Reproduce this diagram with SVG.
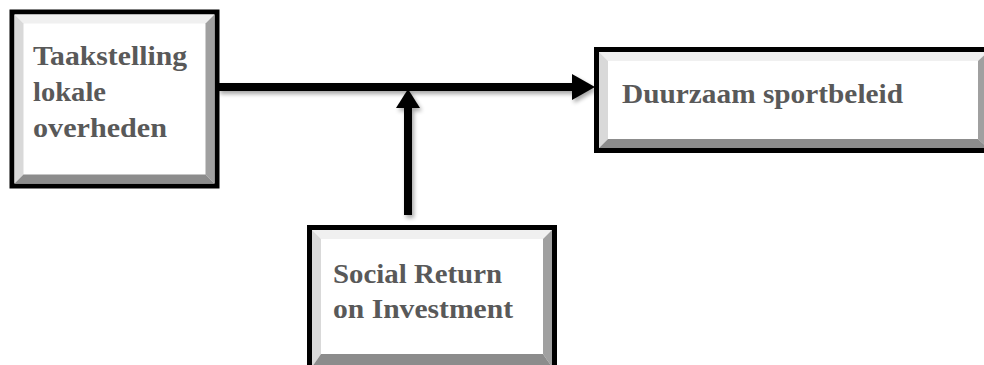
<svg xmlns="http://www.w3.org/2000/svg" width="984" height="365" viewBox="0 0 984 365">
<style>
.frame{fill:#fff;stroke:#000;stroke-width:5}
.bt{fill:#f0f0f0}.bl{fill:#d9d9d9}.br{fill:#a0a0a0}.bb{fill:#8c8c8c}
.lbl{font-family:"Liberation Serif","Times New Roman",serif;font-weight:bold;font-size:27px;fill:#595959}
.conn{stroke:#000;stroke-width:8;fill:none}
</style>
<defs>
<filter id="sh" x="-10%" y="-10%" width="130%" height="130%">
<feGaussianBlur in="SourceAlpha" stdDeviation="2"/>
<feOffset dx="2" dy="3" result="b"/>
<feComponentTransfer><feFuncA type="linear" slope="0.35"/></feComponentTransfer>
<feMerge><feMergeNode/><feMergeNode in="SourceGraphic"/></feMerge>
</filter>
</defs>
<g id="connectors" filter="url(#sh)">
<line class="conn" x1="218" y1="87" x2="576" y2="87"/>
<polygon points="572,74 595,87 572,100" fill="#000"/>
<line class="conn" x1="408" y1="215" x2="408" y2="104"/>
<polygon points="396,108 408,89 420,108" fill="#000"/>
</g>
<g id="node-taakstelling">
<rect class="frame" x="12" y="12" width="205" height="174"/>
<polygon class="bt" points="14.5,14.5 214.5,14.5 205.5,23.5 23.5,23.5"/>
<polygon class="bl" points="14.5,14.5 23.5,23.5 23.5,174.5 14.5,183.5"/>
<polygon class="br" points="214.5,14.5 214.5,183.5 205.5,174.5 205.5,23.5"/>
<polygon class="bb" points="14.5,183.5 214.5,183.5 205.5,174.5 23.5,174.5"/>
<text class="lbl" x="33" y="65" textLength="154" lengthAdjust="spacingAndGlyphs">Taakstelling</text>
<text class="lbl" x="33" y="101" textLength="73" lengthAdjust="spacingAndGlyphs">lokale</text>
<text class="lbl" x="33" y="137" textLength="134" lengthAdjust="spacingAndGlyphs">overheden</text>
</g>
<g id="node-duurzaam">
<rect class="frame" x="596.5" y="49.5" width="394" height="101"/>
<polygon class="bt" points="599,52 988,52 979,61 608,61"/>
<polygon class="bl" points="599,52 608,61 608,139 599,148"/>
<polygon class="br" points="988,52 988,148 978,139 978,61"/>
<polygon class="bb" points="599,148 988,148 978,139 608,139"/>
<text class="lbl" x="622" y="103" textLength="281" lengthAdjust="spacingAndGlyphs">Duurzaam sportbeleid</text>
</g>
<g id="node-sroi">
<rect class="frame" x="309.5" y="227.5" width="245" height="142"/>
<polygon class="bt" points="312,230 552,230 543,239 321,239"/>
<polygon class="bl" points="312,230 321,239 321,354 312,367"/>
<polygon class="br" points="552,230 552,367 543,354 543,239"/>
<polygon class="bb" points="312,367 552,367 543,354 321,354"/>
<text class="lbl" x="333" y="283" textLength="169" lengthAdjust="spacingAndGlyphs">Social Return</text>
<text class="lbl" x="333" y="318" textLength="180" lengthAdjust="spacingAndGlyphs">on Investment</text>
</g>
</svg>
